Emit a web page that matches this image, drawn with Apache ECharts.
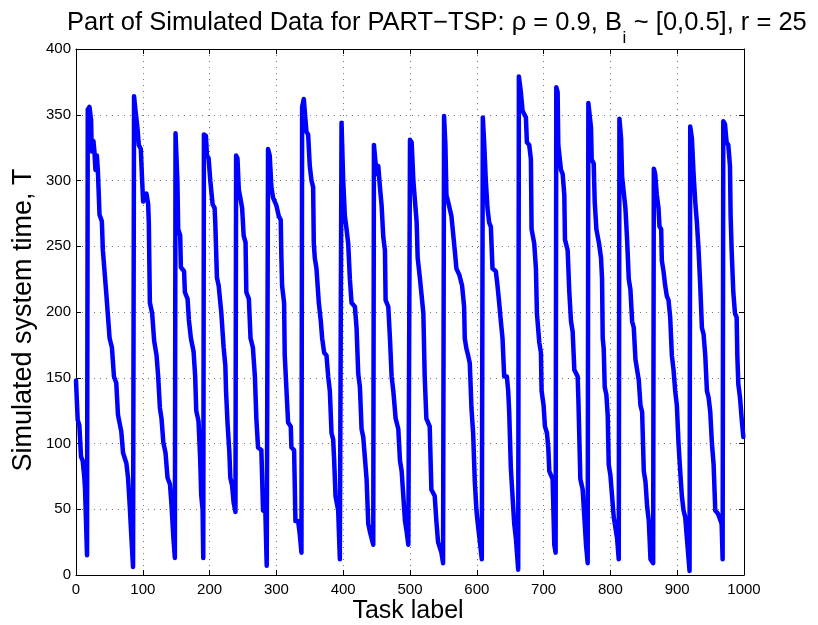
<!DOCTYPE html>
<html>
<head>
<meta charset="utf-8">
<title>PART-TSP simulated data</title>
<script src="https://cdn.jsdelivr.net/npm/echarts@6/dist/echarts.min.js"></script>
<style>
  html, body { margin: 0; padding: 0; background: #fff; }
  #main { width: 818px; height: 625px; }
</style>
</head>
<body>
<div id="main"></div>
<script>
// task label (x) and simulated system time T (y), one row per sawtooth
var taskLabel = [
  0, 2.5, 5, 7.5, 10, 12.5, 13.5, 16.5,
  17.6, 20.1, 22.6, 23.6, 26.1, 27.6, 29.1, 31.2, 32.7, 35.2, 38.7, 40.2, 45.2, 50.3, 53.8, 56.8, 60.3, 62.8, 67.8, 70.4, 75.4, 77.9, 80.4, 82.9, 85.4,
  86.9, 88.9, 92, 94, 97, 99, 100.5, 105.5, 108, 109, 110.6, 114, 117, 120.6, 123, 125.6, 128, 130.7, 134, 137, 140.7, 143, 145.7, 148,
  149, 150.8, 151.8, 153, 156, 157, 161.8, 163, 167, 169, 172, 176, 178.4, 180, 183.4, 186, 187.4, 189.5, 190.5,
  191.5, 194.5, 196, 198.5, 201, 204.5, 207.5, 208.5, 211, 213.6, 217.6, 221, 223.6, 224.6, 227, 229.6, 231, 233.7, 236, 238.7,
  239.7, 241.7, 243.7, 246, 248.7, 251, 253.8, 255, 258.8, 261.3, 264.8, 267.8, 270, 272.5, 277.5, 280, 283.5, 285.5,
  287.5, 290, 292.5, 295, 300, 303.5, 306.5, 307.5, 308.5, 311.5, 312.5, 315, 317.5, 321.5, 322.5, 326.5, 328.5, 332.5, 335, 337.5,
  338.5, 341, 345, 347.5, 350, 352.5, 355, 356, 357.5, 360, 363.5, 366.5, 368.5, 371.5, 375, 377.5, 380, 382.5, 385, 386.5, 388.5, 392.5, 395,
  397.5, 400, 402.5, 405, 407.5, 410, 412.5, 417.5, 420, 421.5, 422.5, 425, 427.5, 430, 432.5, 435, 437.5, 440, 442.5, 445,
  446, 448.5, 450, 452.5, 455, 457.5, 460, 462.5, 463.5, 467.5, 470, 472.5, 475, 478.5, 482.5, 485, 487.5, 490, 492.5, 495, 497.5,
  500, 502.5, 505, 507.5, 510, 511.5, 515, 517.5, 520, 522, 524.5, 529.5, 532, 537, 539.5, 542, 547, 549.5,
  551, 553, 554.5, 557, 562, 567, 569.5, 574, 578, 581, 582, 584.5, 587, 589.5, 592, 594.5, 597, 599.5, 601.5, 604, 607.5,
  609, 611, 613.5, 616, 618.5, 621, 623.5, 628.5, 631, 633.5, 636, 638.5, 641, 645, 647, 648.5, 651, 653.5, 656, 658.5, 662,
  663, 666, 668.5, 673.5, 675, 678.5, 681, 682, 686, 688.5, 690, 693.5, 696, 697, 700, 702, 705, 707, 708.5, 713.5, 716, 718,
  719, 721, 722, 726, 728.5, 731, 732, 736, 738.5, 741, 743.5, 746, 751, 752, 755, 758.5, 761, 763.5, 766,
  767, 769, 771, 772, 775, 776.5, 779, 783, 786, 787.5, 788.5, 790, 791.5, 794, 796, 797.5, 800, 802.5, 805, 807.5, 810, 812.5,
  813.5, 816, 817.5, 820, 822.5, 825, 827.5, 830, 832.5, 835, 837.5, 840, 842.5, 845, 847.5, 850, 852.5, 855, 857.5, 860, 864,
  865, 867, 869.5, 872, 873.5, 876, 877, 879.5, 882, 884.5, 887, 889.5, 892, 894.5, 897, 899.5, 902, 904.5, 907, 909.5, 912, 914.5, 918.5,
  919.5, 922, 924.5, 927, 929.5, 932, 934.5, 937, 939.5, 942, 944.5, 947, 949.5, 952, 954.5, 957, 960.5, 963, 966.5, 968,
  969, 971.5, 974, 976.5, 979, 980, 981.5, 984, 986.5, 989, 990, 991.5, 994, 996.5, 999, 1000
];
var systemTime = [
  148, 118, 114, 90, 87, 74, 66, 15,
  354, 356, 346, 322, 330, 322, 308, 319, 308, 274, 269, 247, 215, 180, 173, 151, 146, 122, 109, 93, 85, 74, 53, 29, 6,
  364, 354, 340, 327, 324, 300, 284, 290, 282, 268, 207, 199, 178, 167, 151, 127, 119, 101, 93, 74, 69, 53, 29, 13,
  336, 335, 300, 263, 258, 234, 231, 215, 210, 194, 180, 170, 151, 125, 117, 87, 61, 50, 13,
  335, 334, 319, 317, 300, 282, 279, 268, 226, 220, 199, 173, 159, 140, 114, 93, 74, 68, 55, 48,
  319, 317, 293, 287, 279, 258, 253, 215, 210, 180, 173, 151, 119, 97, 95, 49, 48, 7,
  324, 319, 295, 287, 281, 273, 270, 241, 220, 207, 167, 167, 116, 113, 97, 95, 41, 41, 31, 17,
  356, 362, 337, 335, 311, 300, 295, 252, 241, 233, 207, 193, 180, 169, 167, 151, 140, 108, 103, 87, 60, 49, 12,
  344, 300, 273, 263, 252, 225, 207, 204, 188, 167, 153, 143, 111, 105, 89, 73, 39, 33, 28, 23,
  327, 327, 305, 311, 295, 281, 257, 247, 209, 204, 180, 151, 140, 119, 111, 87, 79, 60, 41, 33, 23,
  331, 329, 300, 284, 268, 241, 225, 212, 199, 151, 119, 113, 65, 60, 41, 25, 17, 9,
  349, 327, 289, 284, 273, 247, 233, 228, 220, 204, 180, 172, 167, 161, 127, 108, 71, 49, 39, 28, 12,
  348, 329, 300, 279, 268, 265, 233, 231, 220, 207, 193, 180, 151, 151, 140, 124, 81, 60, 39, 28, 4,
  379, 367, 353, 348, 329, 327, 316, 263, 252, 233, 199, 177, 169, 140, 129, 113, 108, 97, 79, 73, 23, 17,
  371, 367, 327, 308, 305, 289, 255, 247, 215, 193, 185, 156, 151, 135, 73, 65, 44, 23, 9,
  359, 358, 340, 316, 313, 284, 263, 252, 241, 225, 180, 172, 143, 137, 121, 84, 76, 60, 44, 36, 28, 12,
  347, 332, 303, 303, 279, 255, 225, 217, 193, 188, 164, 156, 148, 129, 124, 79, 71, 52, 41, 12, 9,
  309, 305, 289, 279, 265, 263, 239, 231, 220, 212, 209, 196, 167, 156, 140, 129, 100, 79, 60, 49, 44, 28, 3,
  341, 332, 305, 284, 268, 247, 220, 188, 183, 167, 140, 135, 124, 100, 84, 49, 47, 44, 39, 12,
  345, 343, 329, 327, 311, 273, 247, 215, 199, 196, 167, 145, 135, 119, 105, 105
];
var xMin = 0, xMax = 1000, xStep = 100;
var yMin = 0, yMax = 400, yStep = 50;

var points = taskLabel.map(function (x, i) { return [x, systemTime[i]]; });

var myChart = echarts.init(document.getElementById("main"));
var font = "Liberation Sans, Arial, Helvetica, sans-serif";

// title is split in three so the "i" can sit as a real subscript under the B
var titleHead = "Part of Simulated Data for PART−TSP: ρ = 0.9, B";
var titleSub = "i";
var titleTail = " ~ [0,0.5], r = 25";
var titleFont = "25.5px " + font;
var subFont = "17px " + font;
var ctx = document.createElement("canvas").getContext("2d");
ctx.font = titleFont;
var headW = ctx.measureText(titleHead).width;
ctx.font = subFont;
var subW = ctx.measureText(titleSub).width;
var titleX = 67;

// MATLAB look: boxed axes, ticks pointing inward on all four sides, dotted grid
function tickAxis(extra) {
  var base = {
    type: "value",
    axisLine: { show: true, onZero: false, lineStyle: { color: "#000", width: 1 } },
    axisTick: { show: true, inside: true, length: 5, lineStyle: { color: "#000" } },
    axisLabel: { show: false },
    splitLine: { show: false }
  };
  return Object.assign(base, extra);
}

var option = {
  animation: false,
  graphic: [
    {
      type: "text", x: titleX, y: 23,
      style: { text: titleHead, font: titleFont, fill: "#000", textAlign: "left", textVerticalAlign: "middle" }
    },
    {
      type: "text", x: titleX + headW + 0.5, y: 38.5,
      style: { text: titleSub, font: subFont, fill: "#000", textAlign: "left", textVerticalAlign: "middle" }
    },
    {
      type: "text", x: titleX + headW + subW + 1, y: 23,
      style: { text: titleTail, font: titleFont, fill: "#000", textAlign: "left", textVerticalAlign: "middle" }
    },
    {
      type: "text",
      x: 408, y: 611,
      style: { text: "Task label", font: "25px " + font, fill: "#000", textAlign: "center", textVerticalAlign: "middle" }
    },
    {
      type: "text",
      x: 24, y: 320,
      rotation: Math.PI / 2,
      style: { text: "Simulated system time, T", font: "27px " + font, fill: "#000", textAlign: "center", textVerticalAlign: "middle" }
    }
  ],
  grid: { left: 76, right: 74, top: 49, bottom: 50 },
  xAxis: [
    tickAxis({
      position: "bottom",
      min: xMin, max: xMax, interval: xStep,
      axisLabel: { show: true, margin: 7, fontFamily: font, fontSize: 15, color: "#000", formatter: function (v) { return String(v); } },
      splitLine: { show: true, lineStyle: { color: "#777", width: 1, type: [1, 5] } }
    }),
    tickAxis({ position: "top", min: xMin, max: xMax, interval: xStep })
  ],
  yAxis: [
    tickAxis({
      position: "left",
      min: yMin, max: yMax, interval: yStep,
      axisLabel: { show: true, margin: 5, fontFamily: font, fontSize: 15, color: "#000" },
      splitLine: { show: true, lineStyle: { color: "#777", width: 1, type: [1, 5] } }
    }),
    tickAxis({ position: "right", min: yMin, max: yMax, interval: yStep })
  ],
  series: [
    {
      type: "line",
      xAxisIndex: 0,
      yAxisIndex: 0,
      data: points,
      showSymbol: false,
      symbol: "none",
      lineStyle: { color: "#0000ff", width: 4.5, join: "round", cap: "round" },
      z: 3
    }
  ]
};
myChart.setOption(option);
</script>
</body>
</html>
